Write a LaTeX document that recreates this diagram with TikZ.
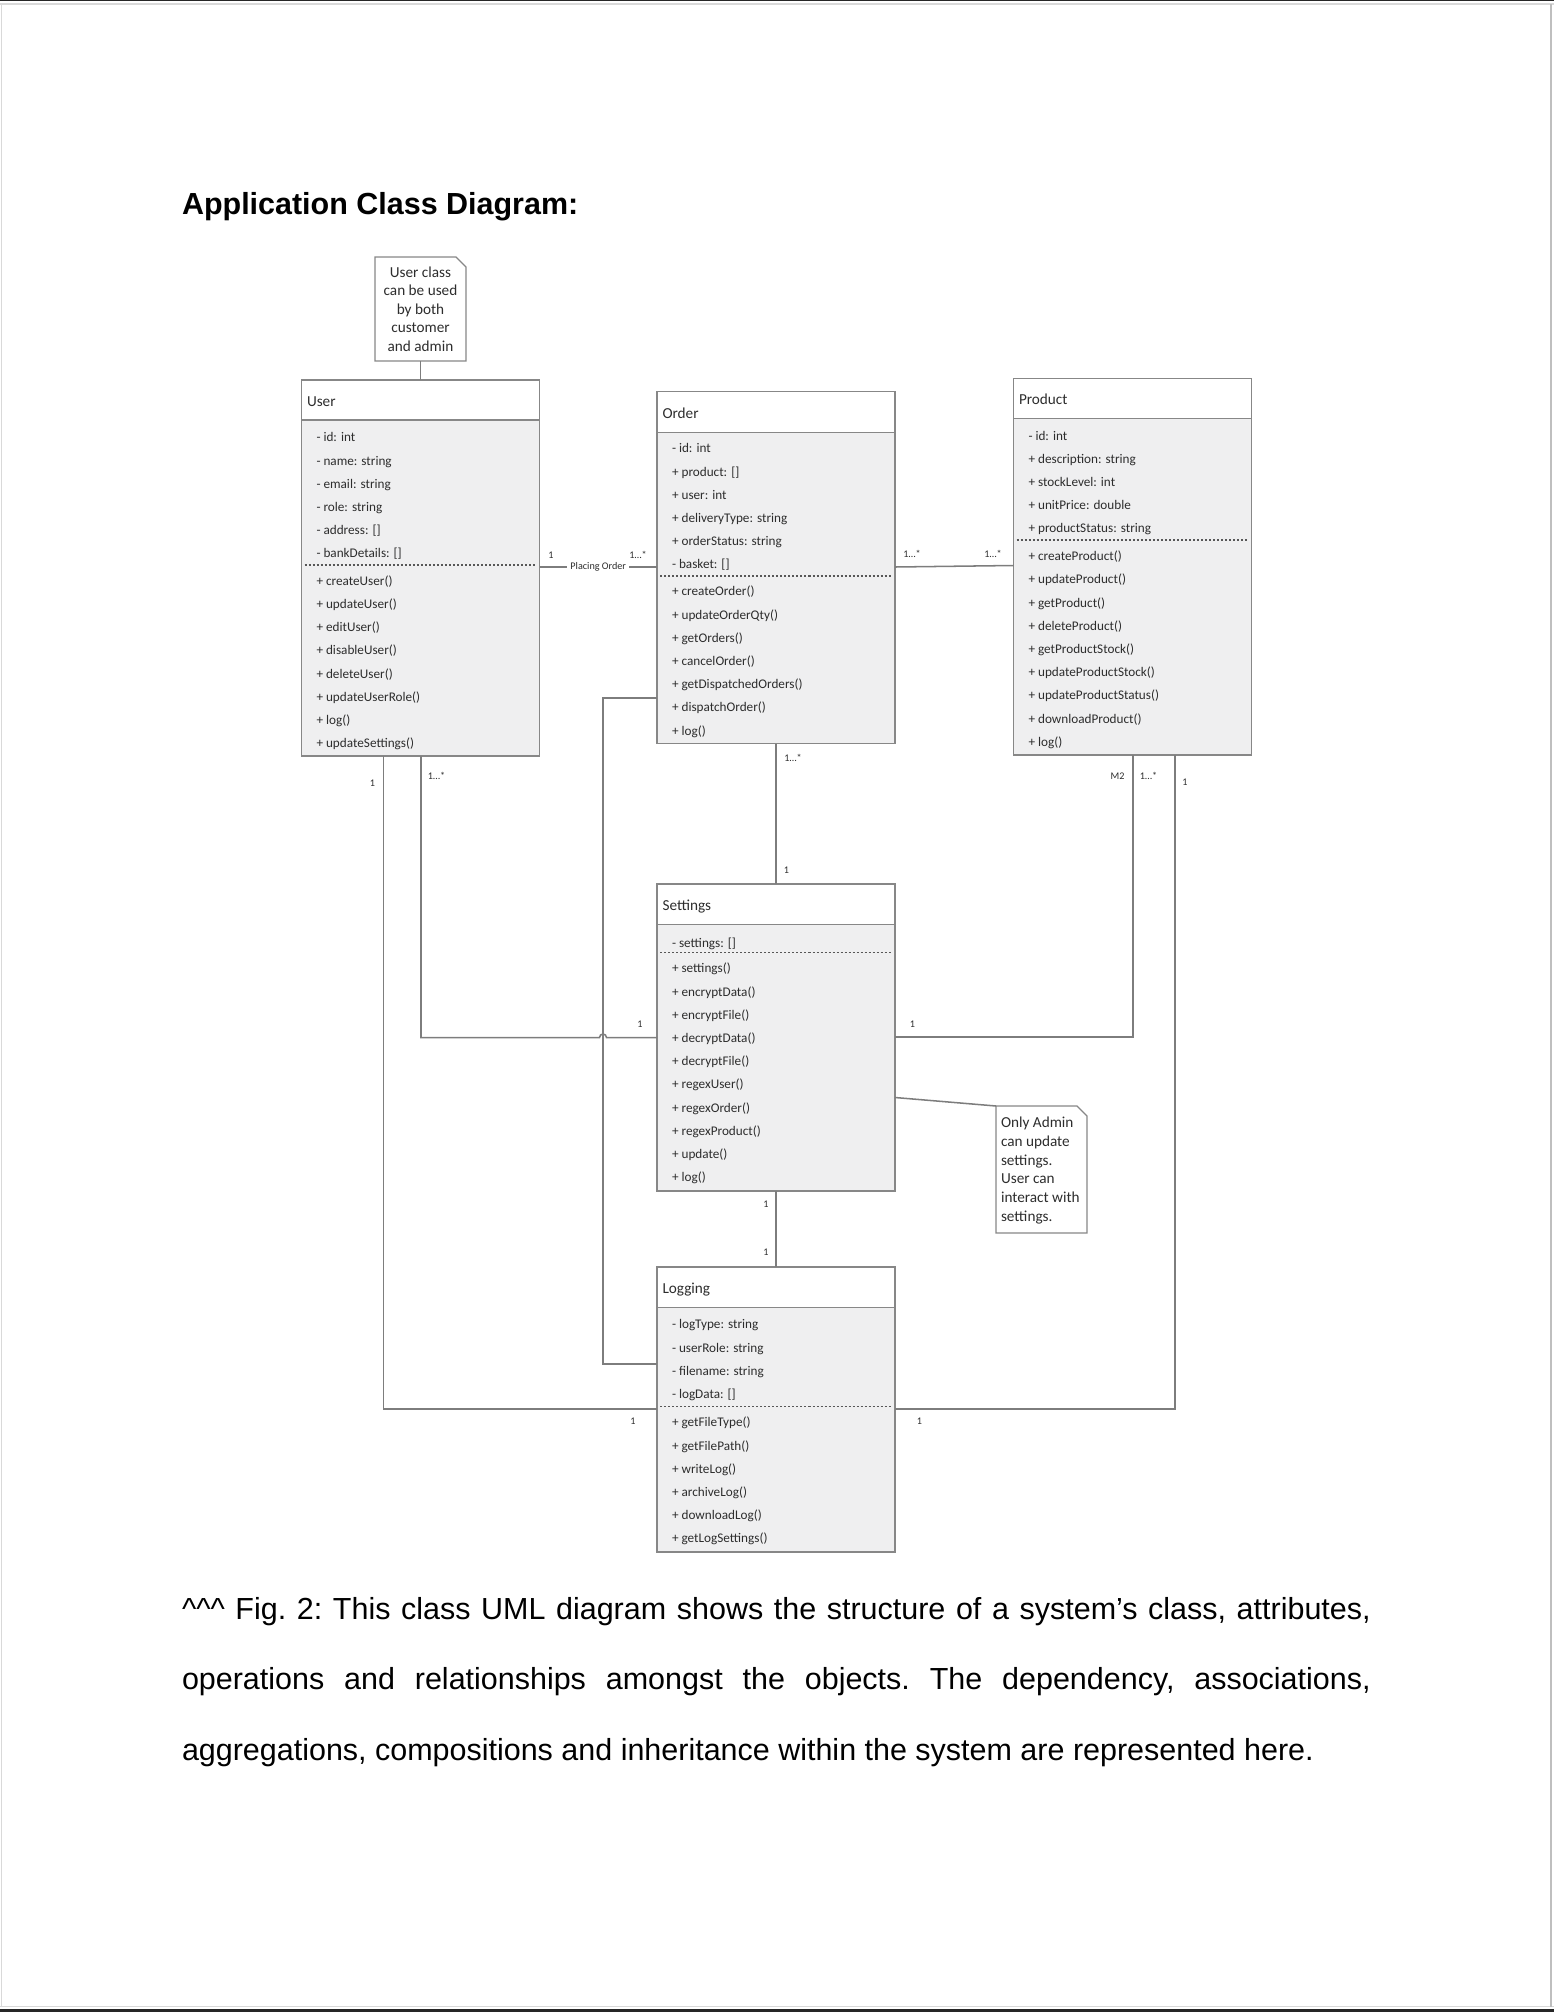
\documentclass[tikz,border=0pt]{standalone}
\usepackage{fontspec}
\setmainfont{Liberation Sans}
\newfontfamily\carl{Carlito}
\usetikzlibrary{calc}
\definecolor{boxline}{RGB}{135,135,135}
\definecolor{boxfill}{RGB}{239,239,240}
\definecolor{conn}{RGB}{125,125,125}
\definecolor{txt}{RGB}{45,45,45}
\newcommand\pxu{0.393701pt}
\newcommand\umlclass[5]{%
  \node[box, fill=white, minimum width=238*\pxu, minimum height={(#4-#3)*\pxu}] (#1H) at (#2,#3) {};
  \node[box, fill=boxfill, minimum width=238*\pxu, minimum height={(#5-#4)*\pxu}] (#1) at (#2,#4) {};
}
\begin{document}
\begin{tikzpicture}[x=0.393701pt, y=-0.393701pt,
  every node/.style={inner sep=0pt, outer sep=0pt},
  box/.style={draw=boxline, line width=0.55pt, anchor=north west, inner sep=0pt},
  hdr/.style={font=\carl\fontsize{6}{7}\selectfont, text=txt, anchor=west, text height=0.75em, text depth=0.25em},
  mem/.style={font=\carl\fontsize{5.2}{6}\selectfont, text=txt, anchor=west, text height=0.75em, text depth=0.25em},
  sep/.style={draw=txt!80, line width=0.4pt, dash pattern=on 0.79pt off 0.79pt},
  wire/.style={draw=conn, line width=0.6pt},
  mult/.style={font=\carl\fontsize{4}{4.8}\selectfont, text=txt},
  notetext/.style={font=\carl\fontsize{6}{7.33}\selectfont, text=txt},
  notebox/.style={draw=boxline, fill=white, line width=0.55pt},
  captext/.style={font=\fontsize{12}{14}\selectfont}
]
\useasboundingbox (0,0) rectangle (1554,2012);
% page edges
\fill[black!85] (0,0) rectangle (1554,1.5);
\fill[black!85] (0,2008.5) rectangle (1554,2012);
\draw[black!15, line width=0.5pt] (0,4) -- (1554,4);
\draw[black!15, line width=0.5pt] (0,2006.5) -- (1554,2006.5);
\draw[black!15, line width=0.6pt] (1.5,4) -- (1.5,2006.5);
\draw[black!25, line width=0.6pt] (1551,4) -- (1551,2006.5);

% title
\node[anchor=base west, font=\fontsize{12}{14}\selectfont\bfseries] (title) at (182,214) {Application Class Diagram:};

% classes
\umlclass{user}{301.5}{380}{420}{756}
\umlclass{order}{657}{391.5}{432.5}{743.5}
\umlclass{product}{1013.5}{378.5}{418.5}{755}
\umlclass{settings}{657}{884}{924.5}{1191}
\umlclass{logging}{657}{1267}{1307.5}{1552}

\node[hdr] (userT) at (307,400) {User};
\node[hdr] (orderT) at (662.5,412) {Order};
\node[hdr] (productT) at (1019,398.5) {Product};
\node[hdr] (settingsT) at (662.5,904.5) {Settings};
\node[hdr] (loggingT) at (662.5,1287.5) {Logging};

% User members
\foreach \t [count=\i from 0] in {- id: int, - name: string, - email: string, - role: string, - address: [], - bankDetails: []}
  \node[mem] (userA\i) at (316.5,435.5+23.2*\i) {\t};
\draw[sep] (304.5,565) -- (536.5,565);
\foreach \t [count=\i from 0] in {+ createUser(), + updateUser(), + editUser(), + disableUser(), + deleteUser(), + updateUserRole(), + log(), + updateSettings()}
  \node[mem] (userM\i) at (316.5,579+23.2*\i) {\t};

% Order members
\foreach \t [count=\i from 0] in {- id: int, + product: [], + user: int, + deliveryType: string, + orderStatus: string, - basket: []}
  \node[mem] (orderA\i) at (672,446.6+23.2*\i) {\t};
\draw[sep] (660,576) -- (892,576);
\foreach \t [count=\i from 0] in {+ createOrder(), + updateOrderQty(), + getOrders(), + cancelOrder(), + getDispatchedOrders(), + dispatchOrder(), + log()}
  \node[mem] (orderM\i) at (672,589.5+23.2*\i) {\t};

% Product members
\foreach \t [count=\i from 0] in {- id: int, + description: string, + stockLevel: int, + unitPrice: double, + productStatus: string}
  \node[mem] (productA\i) at (1028.5,433.8+23.2*\i) {\t};
\draw[sep] (1016.5,540) -- (1248.5,540);
\foreach \t [count=\i from 0] in {+ createProduct(), + updateProduct(), + getProduct(), + deleteProduct(), + getProductStock(), + updateProductStock(), + updateProductStatus(), + downloadProduct(), + log()}
  \node[mem] (productM\i) at (1028.5,554.4+23.2*\i) {\t};

% Settings members
\node[mem] (settingsA0) at (672,940.7) {- settings: []};
\draw[sep] (660,952.5) -- (892,952.5);
\foreach \t [count=\i from 0] in {+ settings(), + encryptData(), + encryptFile(), + decryptData(), + decryptFile(), + regexUser(), + regexOrder(), + regexProduct(), + update(), + log()}
  \node[mem] (settingsM\i) at (672,966.5+23.2*\i) {\t};

% Logging members
\foreach \t [count=\i from 0] in {- logType: string, - userRole: string, - filename: string, - logData: []}
  \node[mem] (loggingA\i) at (672,1322.5+23.2*\i) {\t};
\draw[sep] (660,1406.5) -- (892,1406.5);
\foreach \t [count=\i from 0] in {+ getFileType(), + getFilePath(), + writeLog(), + archiveLog(), + downloadLog(), + getLogSettings()}
  \node[mem] (loggingM\i) at (672,1420.5+23.2*\i) {\t};

% notes
\node[anchor=north west, minimum width=91*\pxu, minimum height=104*\pxu] (note1) at (375,257) {};
\draw[notebox] (note1.north west) -- ($(note1.north east)+(-10,0)$) -- ($(note1.north east)+(0,10)$) -- (note1.south east) -- (note1.south west) -- cycle;
\node[notetext, align=center] (note1T) at (420.5,309) {User class\\can be used\\by both\\customer\\and admin};

\node[anchor=north west, minimum width=91*\pxu, minimum height=127*\pxu] (note2) at (996,1106) {};
\draw[notebox] (note2.north west) -- ($(note2.north east)+(-10,0)$) -- ($(note2.north east)+(0,10)$) -- (note2.south east) -- (note2.south west) -- cycle;
\node[notetext, align=left, anchor=west] (note2T) at (1001,1170.5) {Only Admin\\can update\\settings.\\User can\\interact with\\settings.};

% helper coordinates
\coordinate (yPO) at (0,567);
\coordinate (yOP1) at (0,567);
\coordinate (yOP2) at (0,565.5);
\coordinate (c5x) at (421,0);
\coordinate (c5y) at (0,1037.5);
\coordinate (hop) at (603,1037.5);
\coordinate (c6x) at (383.5,0);
\coordinate (c6y) at (0,1409);
\coordinate (c7y) at (0,698);
\coordinate (c7c) at (603,1364);
\coordinate (c8x) at (1133,0);
\coordinate (c8y) at (0,1037);
\coordinate (c9x) at (1175,0);
\coordinate (c9y) at (0,1409);
\coordinate (n2y) at (0,1097.5);

% connectors
\draw[wire] (note1.south) -- (userH.north);
\draw[wire] (settings.east |- n2y) -- (note2.north west);
\draw[wire] (user.east |- yPO) -- node[mult, fill=white, inner xsep=1.2pt, inner ysep=0.3pt] (poLbl) {Placing Order} (order.west |- yPO);
\draw[wire] (order.east |- yOP1) -- (product.west |- yOP2);
\draw[wire] (order.south) -- (settingsH.north);
\draw[wire] (settings.south) -- (loggingH.north);
\draw[wire] (user.south -| c5x) |- ($(hop)+(-3.5,0)$) arc (180:360:3.5) -- (settings.west |- c5y);
\draw[wire] (user.south -| c6x) |- (logging.west |- c6y);
\draw[wire] (order.west |- c7y) -| (c7c) -- (logging.west |- c7c);
\draw[wire] (product.south -| c8x) |- (settings.east |- c8y);
\draw[wire] (product.south -| c9x) |- (logging.east |- c9y);

% multiplicities
\node[mult] (m1) at (551,555) {1};
\node[mult] (m2) at (638,555) {1…*};
\node[mult] (m3) at (912,554) {1…*};
\node[mult] (m4) at (993,554) {1…*};
\node[mult] (m5) at (793,757.5) {1…*};
\node[mult] (m6) at (786.5,870) {1};
\node[mult] (m7) at (766,1204) {1};
\node[mult] (m8) at (766,1252.5) {1};
\node[mult] (m9) at (436.5,776) {1…*};
\node[mult] (m10) at (640,1024.5) {1};
\node[mult] (m11) at (372.5,783) {1};
\node[mult] (m12) at (633,1421.5) {1};
\node[mult] (m13) at (1117.5,776) {M2};
\node[mult] (m14) at (1148.5,776) {1…*};
\node[mult] (m15) at (912.5,1024.5) {1};
\node[mult] (m16) at (1185,782) {1};
\node[mult] (m17) at (919.5,1421.5) {1};

% caption
\node[captext, anchor=base west] (cap1) at (182,1619) {\frenchspacing\hbox to 468pt{\textasciicircum\textasciicircum\textasciicircum{} Fig. 2: This class UML diagram shows the structure of a system’s class, attributes,}};
\node[captext, anchor=base west] (cap2) at (182,1689.5) {\frenchspacing\hbox to 468pt{operations and relationships amongst the objects. The dependency, associations,}};
\node[captext, anchor=base west] (cap3) at (182,1760) {\frenchspacing aggregations, compositions and inheritance within the system are represented here.};
\end{tikzpicture}
\end{document}
